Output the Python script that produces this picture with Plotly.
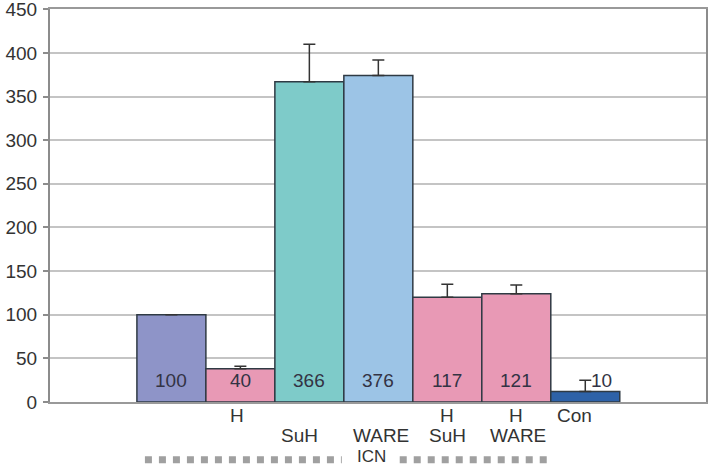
import plotly.graph_objects as go

# data
values = [100, 38, 367, 374, 120, 124, 12]
errors = [0, 3, 43, 18, 15, 10, 13]
value_labels = ["100", "40", "366", "376", "117", "121", "10"]
row1_labels = ["", "H", "", "", "H", "H", "Con"]
row2_labels = ["", "", "SuH", "WARE", "SuH", "WARE", ""]
group_label = "ICN"
colors = ["#8e94c8", "#e899b5", "#7ecbc9", "#9cc4e6", "#e899b5", "#e899b5", "#2e62a8"]

xs = list(range(len(values)))
FONT = "Liberation Sans, Arial, sans-serif"

fig = go.Figure()
fig.add_trace(go.Bar(
    x=xs, y=values, width=1,
    marker=dict(color=colors, line=dict(color="#2f3a44", width=1.5)),
    error_y=dict(type="data", symmetric=False, array=errors,
                 arrayminus=[0] * len(values), color="#333333",
                 thickness=1.5, width=6),
    hoverinfo="skip",
))

ann = []
label_shift = [0, 0, 0, 0, 0, 0, 16]
for i, t in enumerate(value_labels):
    ann.append(dict(x=xs[i], y=25, xref="x", yref="y", text=t, showarrow=False,
                    xshift=label_shift[i], yanchor="middle",
                    font=dict(family=FONT, size=19, color="#333344")))
r1_shift = [0, -3, 0, 0, 0, 0, -11]
for i, t in enumerate(row1_labels):
    if t:
        ann.append(dict(x=xs[i], y=-0.0356, xref="x", yref="paper", text=t,
                        showarrow=False, xshift=r1_shift[i], yanchor="middle",
                        font=dict(family=FONT, size=19, color="#333333")))
r2_shift = [0, 0, -10, 3, 0, 2, 0]
for i, t in enumerate(row2_labels):
    if t:
        ann.append(dict(x=xs[i], y=-0.084, xref="x", yref="paper", text=t,
                        showarrow=False, xshift=r2_shift[i], yanchor="middle",
                        font=dict(family=FONT, size=19, color="#333333")))
ann.append(dict(x=2.906, y=-0.1387, xref="x", yref="paper", text=group_label,
                showarrow=False, yanchor="middle",
                font=dict(family=FONT, size=17, color="#333333")))

shapes = []
for x0, x1 in [(-0.384, 2.47), (3.31, 5.49)]:
    shapes.append(dict(type="line", xref="x", yref="paper", x0=x0, x1=x1,
                       y0=-0.147, y1=-0.147,
                       line=dict(color="#a0a0a0", width=7, dash="7px,7px")))

fig.update_layout(
    width=712, height=467,
    margin=dict(l=50, r=6, t=9, b=65),
    paper_bgcolor="white", plot_bgcolor="white",
    showlegend=False,
    annotations=ann, shapes=shapes,
    xaxis=dict(range=[-1.76, 7.75], showticklabels=False, showgrid=False,
               zeroline=False, showline=True, linecolor="#999999", linewidth=2,
               mirror=True, ticks="", automargin=False),
    yaxis=dict(range=[0, 450.3], tickvals=[0, 50, 100, 150, 200, 250, 300, 350, 400, 450],
               showgrid=True, gridcolor="#c4c4c4",
               gridwidth=1.5, zeroline=False, showline=True, linecolor="#8c8c8c",
               linewidth=2, mirror=True, ticks="outside", ticklen=5,
               tickcolor="#8c8c8c", tickwidth=1.5, ticklabelstandoff=2,
               automargin=False, ticklabeloverflow="allow",
               tickfont=dict(family=FONT, size=19, color="#333333")),
)

fig.write_html("out.html")
